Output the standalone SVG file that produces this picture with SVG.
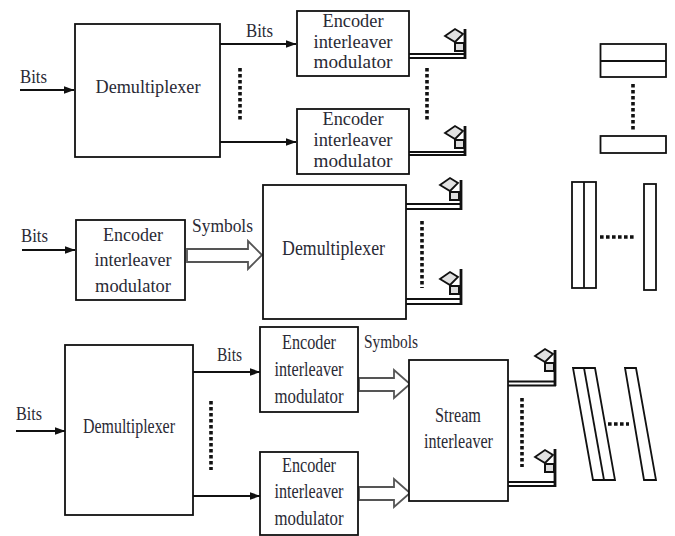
<svg xmlns="http://www.w3.org/2000/svg" xmlns:xlink="http://www.w3.org/1999/xlink" width="675" height="536" viewBox="0 0 675 536">
<style>
text{font-family:"Liberation Serif","Times New Roman",serif;fill:#2a2a35;text-anchor:middle;font-size:18px}
.m{font-size:19px}
.n{font-size:20px}
.b{fill:#fff;stroke:#111;stroke-width:1.8}
.l{fill:none;stroke:#111;stroke-width:1.8}
.d{fill:none;stroke:#111;stroke-width:3.6;stroke-dasharray:3.6 2.4}
.h{fill:#fff;stroke:#555;stroke-width:1.8}
.w{fill:none;stroke:#111;stroke-width:1.8}
.t{fill:none;stroke:#111;stroke-width:2.8}
</style>
<defs>
<marker id="a" markerUnits="userSpaceOnUse" markerWidth="11" markerHeight="8" refX="10.500" refY="4" orient="auto"><path d="M0 0L11 4L0 8Z" fill="#111"/></marker>
<g id="ant">
<path d="M-21-22L-11-29L-3-24L-11-16Z" fill="#e2e2e2" stroke="#111" stroke-width="1.800"/>
<path d="M-11-15H-2V-7H-11Z" fill="#ddd" stroke="#111" stroke-width="2"/>
</g>
</defs>
<g id="connectors">
<path class="l" marker-end="url(#a)" d="M20 90H74"/>
<path class="l" marker-end="url(#a)" d="M220 44H296"/>
<path class="l" marker-end="url(#a)" d="M220 142H296"/>
<path class="l" marker-end="url(#a)" d="M22 250H75"/>
<path class="l" marker-end="url(#a)" d="M16 431H65"/>
<path class="l" marker-end="url(#a)" d="M193 372H260"/>
<path class="l" marker-end="url(#a)" d="M193 496H260"/>
<path class="h" d="M187 249H248V241L262 255L248 269V262H187Z"/>
<path class="h" d="M359 378H394V370L410 384L394 398V391H359Z"/>
<path class="h" d="M359 487H394V479L410 493L394 507V500H359Z"/>
<path class="w" d="M409 54H466M409 58H466"/>
<path class="w" d="M409 152H466M409 155H466"/>
<path class="w" d="M406 204H462M406 209H462"/>
<path class="w" d="M406 299H462M406 304H462"/>
<path class="w" d="M508 381.500H556M508 385.500H556"/>
<path class="w" d="M508 482H556M508 486H556"/>
<path class="d" d="M240 68V122"/>
<path class="d" d="M427 68V122"/>
<path class="d" d="M633 84V130"/>
<path class="d" d="M422 221V288"/>
<path class="d" d="M600 237H636"/>
<path class="d" d="M522 398V467"/>
<path class="d" d="M211 401V470"/>
<path class="d" d="M608 424H629"/>
</g>
<g id="demux-1"><rect class="b" x="75" y="24" width="145" height="133"/><text x="148" y="93" textLength="105" lengthAdjust="spacingAndGlyphs">Demultiplexer</text></g>
<g id="encoder-1"><rect class="b" x="297" y="11" width="112" height="65"/><text x="353" y="27" textLength="61" lengthAdjust="spacingAndGlyphs">Encoder</text><text x="353" y="48" textLength="79" lengthAdjust="spacingAndGlyphs">interleaver</text><text x="353" y="68" textLength="79" lengthAdjust="spacingAndGlyphs">modulator</text></g>
<g id="encoder-2"><rect class="b" x="297" y="109" width="112" height="65"/><text x="353" y="125" textLength="61" lengthAdjust="spacingAndGlyphs">Encoder</text><text x="353" y="146" textLength="79" lengthAdjust="spacingAndGlyphs">interleaver</text><text x="353" y="167" textLength="79" lengthAdjust="spacingAndGlyphs">modulator</text></g>
<g id="encoder-3"><rect class="b" x="76" y="220" width="109" height="80"/><text class="m" x="133" y="241" textLength="60" lengthAdjust="spacingAndGlyphs">Encoder</text><text class="m" x="133" y="266" textLength="77" lengthAdjust="spacingAndGlyphs">interleaver</text><text class="m" x="133" y="292" textLength="76" lengthAdjust="spacingAndGlyphs">modulator</text></g>
<g id="demux-2"><rect class="b" x="263" y="185" width="143" height="134"/><text class="n" x="333.500" y="255" textLength="103" lengthAdjust="spacingAndGlyphs">Demultiplexer</text></g>
<g id="demux-3"><rect class="b" x="65" y="345" width="128" height="170"/><text class="n" x="129" y="433" textLength="92" lengthAdjust="spacingAndGlyphs">Demultiplexer</text></g>
<g id="encoder-4"><rect class="b" x="260" y="327" width="98" height="85"/><text class="n" x="309" y="349" textLength="54" lengthAdjust="spacingAndGlyphs">Encoder</text><text class="n" x="309" y="376" textLength="69" lengthAdjust="spacingAndGlyphs">interleaver</text><text class="n" x="309" y="403" textLength="69" lengthAdjust="spacingAndGlyphs">modulator</text></g>
<g id="encoder-5"><rect class="b" x="260" y="452" width="98" height="83"/><text class="n" x="309" y="472" textLength="54" lengthAdjust="spacingAndGlyphs">Encoder</text><text class="n" x="309" y="498" textLength="69" lengthAdjust="spacingAndGlyphs">interleaver</text><text class="n" x="309" y="525" textLength="69" lengthAdjust="spacingAndGlyphs">modulator</text></g>
<g id="stream-interleaver"><rect class="b" x="409" y="360" width="99" height="141"/><text class="n" x="458" y="422" textLength="46" lengthAdjust="spacingAndGlyphs">Stream</text><text class="n" x="458.500" y="448" textLength="69" lengthAdjust="spacingAndGlyphs">interleaver</text></g>
<g id="labels">
<text x="33.500" y="83" textLength="27" lengthAdjust="spacingAndGlyphs">Bits</text>
<text x="259.500" y="37" textLength="27" lengthAdjust="spacingAndGlyphs">Bits</text>
<text class="m" x="34.500" y="242" textLength="27" lengthAdjust="spacingAndGlyphs">Bits</text>
<text class="m" x="222.500" y="232" textLength="61" lengthAdjust="spacingAndGlyphs">Symbols</text>
<text class="m" x="29" y="420" textLength="26" lengthAdjust="spacingAndGlyphs">Bits</text>
<text class="m" x="229.500" y="361" textLength="25" lengthAdjust="spacingAndGlyphs">Bits</text>
<text class="m" x="391" y="348" textLength="54" lengthAdjust="spacingAndGlyphs">Symbols</text>
</g>
<g id="antenna-1"><path class="t" d="M465 29V59"/><use xlink:href="#ant" href="#ant" x="466" y="58"/></g>
<g id="antenna-2"><path class="t" d="M465 126V156"/><use xlink:href="#ant" href="#ant" x="466" y="155"/></g>
<g id="antenna-3"><path class="t" d="M461 180V210"/><use xlink:href="#ant" href="#ant" x="461" y="207"/></g>
<g id="antenna-4"><path class="t" d="M461 269V305"/><use xlink:href="#ant" href="#ant" x="461" y="301"/></g>
<g id="antenna-5"><path class="t" d="M555 350V386"/><use xlink:href="#ant" href="#ant" x="556" y="378"/></g>
<g id="antenna-6"><path class="t" d="M555 449V487"/><use xlink:href="#ant" href="#ant" x="556" y="479"/></g>
<g id="stream-a"><rect class="b" x="600.500" y="44" width="65.500" height="33"/><path class="l" d="M600.500 61H666"/><rect class="b" x="600.500" y="136" width="65.500" height="17"/></g>
<g id="stream-b"><rect class="b" x="572" y="182" width="24" height="106"/><path class="l" d="M584 182V288"/><rect class="b" x="644" y="184" width="12" height="106"/></g>
<g id="stream-c"><path class="b" d="M573 368H595L615 480H593Z"/><path class="l" d="M584 368L604 480"/><path class="b" d="M625 368H636L656 480H644Z"/></g>
</svg>
